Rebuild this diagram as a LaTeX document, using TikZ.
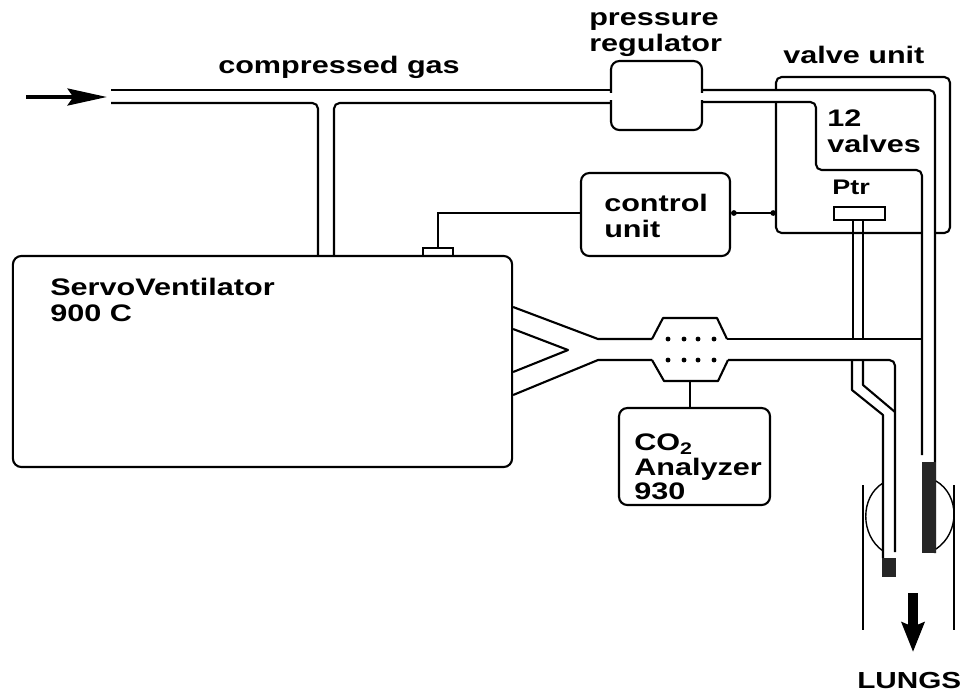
\documentclass[tikz,border=0pt]{standalone}
\usepackage{fontspec}
\setmainfont[FakeStretch=1.28]{Liberation Sans}
\usetikzlibrary{arrows.meta}
\tikzset{
	pipe/.style={line width=1.5pt,line join=round,rounded corners=4pt},
	wire/.style={line width=1pt},
	unitbox/.style={draw,line width=1.5pt,rounded corners=6pt,inner sep=0pt},
	tag/.style={font=\fontsize{17}{18.5}\selectfont\bfseries,align=left,anchor=west,inner sep=0pt},
	dotrow/.style={fill,circle,inner sep=0pt,minimum size=3.5pt},
}
\begin{document}
\begin{tikzpicture}[x=0.025cm,y=-0.025cm]
		\useasboundingbox (0,0) rectangle (965,693);
		
		% boxes
		\node[unitbox,minimum width=2.275cm,minimum height=1.725cm] (regulator) at (656.5,95.5) {};
		\node[unitbox,minimum width=3.725cm,minimum height=2.075cm] (control) at (655.5,214.5) {};
		\node[unitbox,minimum width=12.475cm,minimum height=5.275cm] (servo) at (262.5,361.5) {};
		\node[unitbox,minimum width=3.775cm,minimum height=2.425cm] (analyzer) at (694.5,456.5) {};
		\node[draw,line width=1pt,minimum width=0.75cm,minimum height=0.2cm,inner sep=0pt] (plug) at (438,252) {};
		\node[draw,line width=1.5pt,minimum width=1.275cm,minimum height=0.325cm,inner sep=0pt] (ptr) at (859.5,213.5) {};
		
		% gaps where the gas line enters the regulator
		\draw[white,line width=3pt] (611,92.5) -- (611,99.5);
		\draw[white,line width=3pt] (702,92.5) -- (702,99.5);
		
		% gas line
		\draw[pipe] (111,90) -- (regulator.west |- 0,90);
		\draw[pipe] (111,103) -- (318,103) -- (318,256);
		\draw[pipe] (334,256) -- (334,103) -- (regulator.west |- 0,103);
		\draw[pipe] (regulator.east |- 0,90) -- (935,90) -- (935,553);
		\draw[pipe] (regulator.east |- 0,102) -- (816,102) -- (816,170) -- (922,170) -- (922,455);
		
		% valve unit
		\coordinate (valve) at (776,213);
		\draw[pipe] (776,90) -- (776,77) -- (950,77) -- (950,233) -- (936,233);
		\draw[pipe] (776,102) -- (776,233) -- (922,233);
		
		% wires
		\draw[wire,{Circle[length=4pt]}-{Circle[length=4pt]}] (control.east |- valve) -- (valve);
		\draw[wire] (control.west |- valve) -- (plug.north |- valve) -- (plug.north);
		
		% ventilator tube
		\draw[pipe,rounded corners=0pt] (servo.east |- 0,307) -- (598,339) -- (652,339);
		\draw[pipe,rounded corners=0pt] (servo.east |- 0,395) -- (598,360) -- (652,360);
		\draw[pipe,rounded corners=0pt] (servo.east |- 0,329) -- (568,350) -- (servo.east |- 0,372);
		\draw[pipe] (727,339) -- (922,339);
		\draw[pipe] (728,360) -- (895,360) -- (895,552);
		
		% sensor on the tube
		\draw[pipe,rounded corners=0pt] (652,339) -- (663,318) -- (717,318) -- (727,339);
		\draw[pipe,rounded corners=0pt] (652,360) -- (664,381) -- (718,381) -- (728,360);
		\coordinate (sensor) at (690,381);
		\foreach \x in {668,684,698,714}{
			\node[dotrow] (top\x) at (\x,339) {};
			\node[dotrow] (bot\x) at (\x,360) {};
		}
		\draw[line width=1.5pt] (sensor) -- (sensor |- analyzer.north);
		
		% pressure line
		\draw[pipe,rounded corners=0pt] (853,220) -- (853,339);
		\draw[pipe,rounded corners=0pt] (863,220) -- (863,339);
		\draw[pipe,rounded corners=0pt] (852,360) -- (852,390) -- (883,415) -- (883,558);
		\draw[pipe,rounded corners=0pt] (863,360) -- (863,385) -- (895,412);
		
		% tips
		\fill[black!85] (882,558) rectangle (896,577);
		\fill[black!85] (922,462) rectangle (936,553);
		
		% trachea and cuff
		\draw[line width=1.5pt] (863,485) -- (863,630);
		\draw[line width=1.5pt] (954,485) -- (954,630);
		\draw[line width=1pt] (883,483) .. controls (860,497) and (860,535) .. (883,551);
		\draw[line width=1pt] (936,481) .. controls (960,495) and (960,533) .. (936,549);
		
		% arrows
		\coordinate (inlet) at (26,97);
		\coordinate (inletend) at (107,97);
		\draw[line width=3pt,-{Stealth[length=28pt,width=12pt,inset=4pt]}] (inlet) -- (inletend);
		\coordinate (flow) at (913,593);
		\coordinate (flowend) at (913,652);
		\draw[line width=7pt,-{Stealth[length=21pt,width=16pt,inset=3pt]}] (flow) -- (flowend);
		
		% labels
		\node[tag] (gaslabel) at (218,67) {compressed gas};
		\node[tag] (reglabel) at (589,35) {pressure\\regulator};
		\node[tag] (valvelabel) at (783,55) {valve unit};
		\node[tag] (countlabel) at (827,131) {12\\valves};
		\node[tag,font=\fontsize{15}{16}\selectfont\bfseries] (ptrlabel) at (832,187) {Ptr};
		\node[tag] (controllabel) at (604,216) {control\\unit};
		\node[tag] (servolabel) at (50,300) {ServoVentilator\\900 C};
		\node[tag,font=\fontsize{17}{17.5}\selectfont\bfseries] (analyzerlabel) at (634,467) {CO\textsubscript{2}\\Analyzer\\930};
		\node[tag,font=\fontsize{16.5}{18}\selectfont\bfseries] (lungslabel) at (857,680) {LUNGS};
		
	\end{tikzpicture}
\end{document}
